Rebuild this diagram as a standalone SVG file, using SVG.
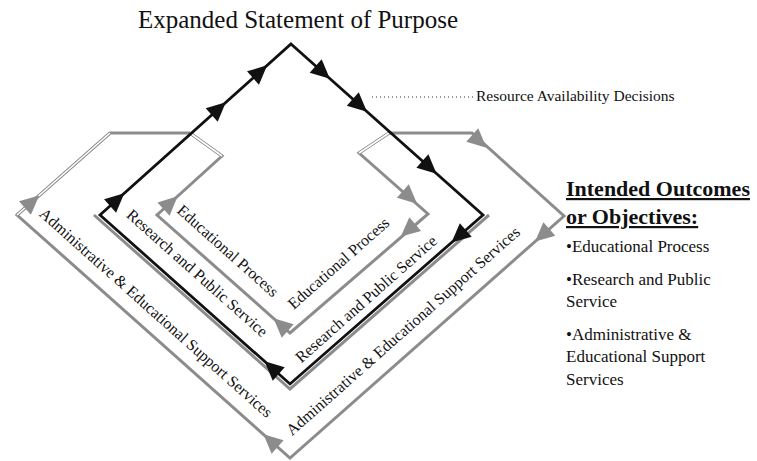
<svg xmlns="http://www.w3.org/2000/svg" width="757" height="461" viewBox="0 0 757 461">
<style>
text{font-family:"Liberation Serif","Times New Roman",serif;fill:#111}
.lbl{font-size:16px}
.blk{fill:none;stroke:#111;stroke-width:2.8;stroke-linejoin:miter}
.gry{fill:none;stroke:#8c8c8c;stroke-width:3;stroke-linejoin:miter}
.hol{fill:none;stroke:#fff;stroke-width:1.6}
.ab{fill:#111}
.ag{fill:#8c8c8c}
.out{font-size:17px}
.hd{font-size:22px;font-weight:bold;text-decoration:underline}
</style>
<defs>
<polygon id="ah" points="10,0 -9,-9 -9,9"/>
</defs>
<rect width="757" height="461" fill="#fff"/>
<text id="title" x="298" y="28" text-anchor="middle" font-size="25">Expanded Statement of Purpose</text>
<g id="connectors">
<path class="gry" d="M190,133 L222,156 L157,215 L290,333 L428,214 L359,153 L389,133"/>
<path class="gry" d="M190,133 L110,133 L17,215 L290,458 L564,216 L472,133 L389,133"/>
<path class="gry" stroke-width="5" d="M110,133 L17,215 M190,133 L222,156 M389,133 L359,153"/>
<path class="hol" d="M110,133 L17,215 M190,133 L222,156 M389,133 L359,153"/>
<path class="gry" stroke-width="1.6" d="M489,215 L290,389 L94,215"/>
<path class="blk" d="M291,44 L483,215 L290,384 L100,215 Z"/>
<path d="M372,97 L474,97" stroke="#333" stroke-width="1" stroke-dasharray="1,3"/>
</g>
<g id="arrows">
<use href="#ah" class="ab" transform="translate(259.7,72) rotate(-41.8)"/>
<use href="#ah" class="ab" transform="translate(218.4,109) rotate(-41.8)"/>
<use href="#ah" class="ab" transform="translate(116.8,200) rotate(-41.8)"/>
<use href="#ah" class="ab" transform="translate(322.4,72) rotate(41.7)"/>
<use href="#ah" class="ab" transform="translate(359.5,105) rotate(41.7)"/>
<use href="#ah" class="ab" transform="translate(429.1,167) rotate(41.7)"/>
<use href="#ah" class="ab" transform="translate(459,236) rotate(138.8)"/>
<use href="#ah" class="ab" transform="translate(272,368) rotate(-138.4)"/>
<use href="#ah" class="ag" transform="translate(409.6,197) rotate(41.5)"/>
<use href="#ah" class="ag" transform="translate(408.4,230) rotate(139.2)"/>
<use href="#ah" class="ag" transform="translate(281,325) rotate(-138.4)"/>
<use href="#ah" class="ag" transform="translate(170.2,203) rotate(-42.2)"/>
<use href="#ah" class="ag" transform="translate(479,141) rotate(41.5)"/>
<use href="#ah" class="ag" transform="translate(542.6,235) rotate(138.6)"/>
<use href="#ah" class="ag" transform="translate(270.9,441) rotate(-138.3)"/>
<use href="#ah" class="ag" transform="translate(31.7,202) rotate(-41.4)"/>
</g>
<g id="loop-admin-left"><text class="lbl" transform="translate(38.3,215.1) rotate(41.7)">Administrative &amp; Educational Support Services</text></g>
<g id="loop-research-left"><text class="lbl" transform="translate(125.5,216.3) rotate(41.7)">Research and Public Service</text></g>
<g id="loop-edu-left"><text class="lbl" transform="translate(176,211.8) rotate(41.7)">Educational Process</text></g>
<g id="loop-edu-right"><text class="lbl" transform="translate(293.7,310) rotate(-41.5)">Educational Process</text></g>
<g id="loop-research-right"><text class="lbl" transform="translate(301.2,363.5) rotate(-41.5)">Research and Public Service</text></g>
<g id="loop-admin-right"><text class="lbl" transform="translate(292.1,436.2) rotate(-41.5)">Administrative &amp; Educational Support Services</text></g>
<g id="resource"><text x="476" y="101" font-size="15.5">Resource Availability Decisions</text></g>
<g id="outcomes">
<text class="hd" x="566" y="196">Intended Outcomes</text>
<text class="hd" x="566" y="224">or Objectives:</text>
<text class="out" x="566" y="252">•Educational Process</text>
<text class="out" x="566" y="285">•Research and Public</text>
<text class="out" x="566" y="307">Service</text>
<text class="out" x="566" y="340">•Administrative &amp;</text>
<text class="out" x="566" y="362">Educational Support</text>
<text class="out" x="566" y="385">Services</text>
</g>
</svg>
